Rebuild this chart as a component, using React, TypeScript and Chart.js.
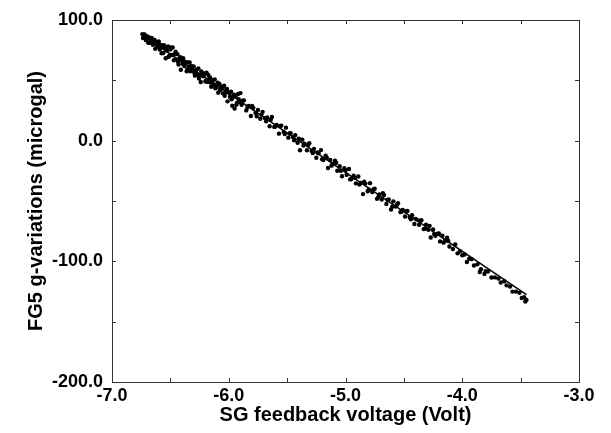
import React, { useEffect, useRef } from "react";
import { Chart, registerables } from "chart.js";

Chart.register(...registerables);

// SG feedback voltage (Volt) of each FG5 drop set
const voltage: number[] = [
  -6.74, -6.73, -6.72, -6.71, -6.70, -6.69, -6.68, -6.67, -6.66, -6.65,
  -6.64, -6.63, -6.62, -6.61, -6.60, -6.59, -6.58, -6.57, -6.56, -6.55,
  -6.54, -6.53, -6.52, -6.51, -6.50, -6.49, -6.48, -6.47, -6.46, -6.45,
  -6.44, -6.43, -6.42, -6.41, -6.40, -6.39, -6.38, -6.37, -6.36, -6.35,
  -6.34, -6.33, -6.32, -6.31, -6.30, -6.29, -6.28, -6.27, -6.26, -6.25,
  -6.24, -6.23, -6.22, -6.21, -6.20, -6.19, -6.18, -6.17, -6.16, -6.15,
  -6.14, -6.13, -6.12, -6.11, -6.10, -6.09, -6.08, -6.07, -6.06, -6.05,
  -6.04, -6.03, -6.02, -6.01, -6.00, -5.99, -5.98, -5.97, -5.96, -5.95,
  -5.94, -5.93, -5.92, -5.91, -5.90,
  -6.735, -6.715, -6.695, -6.675, -6.655, -6.635, -6.615, -6.595, -6.575, -6.555,
  -6.535, -6.515, -6.495, -6.475, -6.455, -6.435, -6.415, -6.395, -6.375, -6.355,
  -6.335, -6.315, -6.295, -6.275, -6.255, -6.235, -6.215, -6.195, -6.175, -6.155,
  -6.135, -6.115, -6.095, -6.075, -6.055, -6.035, -6.015, -5.995, -5.975, -5.955,
  -5.935, -5.915,
  -5.89, -5.87, -5.85, -5.83, -5.81, -5.79, -5.77, -5.75, -5.73, -5.71,
  -5.69, -5.67, -5.65, -5.63, -5.61, -5.59, -5.57, -5.55, -5.53, -5.51,
  -5.49, -5.47, -5.45, -5.43, -5.41, -5.39, -5.37, -5.35, -5.33, -5.31,
  -5.29, -5.27, -5.25, -5.23, -5.21, -5.19, -5.17, -5.15, -5.13, -5.11,
  -5.09, -5.07, -5.05, -5.03, -5.01, -4.99, -4.97, -4.95, -4.93, -4.91,
  -4.89, -4.87, -4.85, -4.83, -4.81, -4.79, -4.77, -4.75, -4.73, -4.71,
  -4.69, -4.67, -4.65, -4.63, -4.61, -4.59, -4.57, -4.55, -4.53, -4.51,
  -4.49, -4.47, -4.45, -4.43, -4.41, -4.39, -4.37, -4.35, -4.33, -4.31,
  -4.29, -4.27, -4.25, -4.23, -4.21, -4.19, -4.17, -4.15, -4.13, -4.11,
  -5.88, -5.84, -5.80, -5.76, -5.72, -5.68, -5.64, -5.60, -5.56, -5.52,
  -5.48, -5.44, -5.40, -5.36, -5.32, -5.28, -5.24, -5.20, -5.16, -5.12,
  -5.08, -5.04, -5.00, -4.96, -4.92, -4.88, -4.84, -4.80, -4.76, -4.72,
  -4.68, -4.64, -4.60, -4.56, -4.52, -4.48, -4.44, -4.40, -4.36, -4.32,
  -4.28, -4.24, -4.20, -4.16, -4.12,
  -4.08, -4.06, -4.04, -4.02, -4.00, -3.98, -3.96, -3.94, -3.90, -3.87,
  -3.84, -3.81, -3.78, -3.75, -3.72, -3.69, -3.67, -3.64, -3.62, -3.59,
  -3.57, -3.54, -3.51, -3.49, -3.47, -3.46, -3.45, -3.92, -3.85, -3.80,
];

// FG5 g-variations (microgal) for the same drop sets
const gravity: number[] = [
  88.3, 85.7, 88.0, 83.4, 85.7, 81.1, 85.4, 82.8, 85.1, 79.5,
  81.8, 76.1, 81.5, 77.8, 82.2, 75.5, 77.9, 79.2, 72.6, 76.9,
  68.3, 74.6, 78.0, 70.3, 75.6, 71.0, 77.3, 66.7, 72.0, 67.4,
  71.7, 63.1, 68.4, 58.8, 66.1, 68.4, 61.8, 65.1, 57.5, 64.8,
  61.2, 57.5, 61.9, 58.2, 61.5, 53.9, 58.2, 54.6, 59.9, 54.3,
  48.6, 56.0, 53.3, 55.7, 49.0, 56.3, 48.7, 51.0, 52.4, 44.7,
  50.1, 46.4, 50.8, 44.1, 46.5, 39.8, 47.1, 43.5, 44.8, 39.2,
  45.5, 39.9, 42.2, 32.6, 39.9, 36.3, 40.6, 28.9, 36.3, 26.6,
  37.0, 31.3, 38.7, 32.0, 39.4,
  85.0, 86.7, 86.4, 81.1, 82.8, 83.5, 78.2, 79.9, 72.5, 79.2,
  75.9, 69.6, 77.3, 71.0, 73.7, 65.4, 69.1, 63.8, 65.5, 59.2,
  64.9, 60.5, 56.2, 58.9, 51.6, 57.3, 54.0, 49.7, 54.4, 48.1,
  49.8, 43.4, 48.1, 41.8, 43.5, 37.2, 42.9, 39.6, 34.3, 38.0,
  29.7, 34.4,
  29.7, 33.4, 25.1, 28.8, 20.5, 27.2, 22.9, 25.5, 18.2, 23.9,
  18.6, 19.3, 12.0, 19.7, 11.4, 13.1, 5.8, 12.5, 7.2, 10.8,
  2.5, 6.2, 2.9, 4.6, -1.7, -8.0, 0.7, -2.6, -7.9, -2.2,
  -8.5, -6.8, -14.1, -10.5, -7.8, -16.1, -12.4, -22.7, -16.0, -19.3,
  -16.6, -24.9, -21.2, -29.5, -22.8, -28.2, -23.5, -31.8, -29.1, -35.4,
  -29.7, -35.0, -44.3, -35.6, -41.9, -35.2, -42.5, -39.9, -48.2, -44.5,
  -48.8, -45.1, -52.4, -48.7, -57.0, -50.3, -54.6, -51.9, -59.2, -57.5,
  -62.9, -58.2, -63.5, -61.8, -69.1, -65.4, -69.7, -66.0, -73.3, -69.6,
  -73.9, -80.3, -73.6, -78.9, -77.2, -83.5, -78.8, -83.1, -80.4, -87.7,
  33.1, 27.5, 28.8, 20.2, 21.6, 16.0, 17.4, 11.7, 12.1, 5.5,
  5.9, 0.3, 1.6, -4.0, -3.6, -10.2, -9.8, -15.4, -14.1, -20.7,
  -18.3, -24.9, -24.5, -32.1, -30.7, -36.4, -34.0, -40.6, -40.2, -46.8,
  -43.5, -49.1, -54.7, -53.3, -58.9, -58.5, -65.2, -64.8, -66.4, -73.0,
  -70.6, -77.3, -76.9, -84.5, -83.1,
  -89.8, -86.1, -93.4, -91.7, -95.0, -94.3, -100.6, -97.9, -103.5, -102.5,
  -106.5, -110.4, -108.4, -113.4, -113.3, -114.3, -117.6, -116.5, -119.9, -120.8,
  -125.1, -125.1, -126.1, -130.4, -129.7, -133.3, -132.0, -98.2, -108.8, -108.1,
];

// Least-squares fit line end points
const fitVoltage: number[] = [-6.75, -3.45];
const fitGravity: number[] = [88.0, -127.5];

// Tick marks (inward, mirrored on all four sides)
const xTickValues: number[] = [-7, -6.5, -6, -5.5, -5, -4.5, -4, -3.5, -3];
const yTickValues: number[] = [-200, -150, -100, -50, 0, 50, 100];

const FONT = "'Liberation Sans', Arial, Helvetica, sans-serif";

const framePlugin = {
  id: "frameTicks",
  afterDatasetsDraw(chart: any) {
    const { ctx, chartArea, scales } = chart;
    const { left, right, top, bottom } = chartArea;
    ctx.save();
    ctx.strokeStyle = "#333";
    ctx.lineWidth = 1;
    ctx.strokeRect(left + 0.5, top + 0.5, right - left, bottom - top);
    const len = 4;
    ctx.beginPath();
    for (const v of xTickValues) {
      const px = Math.round(scales.x.getPixelForValue(v)) + 0.5;
      ctx.moveTo(px, bottom);
      ctx.lineTo(px, bottom - len);
      ctx.moveTo(px, top);
      ctx.lineTo(px, top + len);
    }
    for (const v of yTickValues) {
      const py = Math.round(scales.y.getPixelForValue(v)) + 0.5;
      ctx.moveTo(left, py);
      ctx.lineTo(left + len, py);
      ctx.moveTo(right, py);
      ctx.lineTo(right - len, py);
    }
    ctx.stroke();
    ctx.restore();
  },
};

export default function App() {
  const ref = useRef<HTMLCanvasElement | null>(null);

  useEffect(() => {
    if (!ref.current) return;
    const points = voltage.map((v, i) => ({ x: v, y: gravity[i] }));
    const fit = fitVoltage.map((v, i) => ({ x: v, y: fitGravity[i] }));
    const chart = new Chart(ref.current, {
      type: "scatter",
      data: {
        datasets: [
          {
            label: "FG5 vs SG",
            data: points,
            pointRadius: 2.2,
            pointBorderWidth: 0,
            pointBackgroundColor: "#000",
            pointBorderColor: "#000",
            showLine: false,
          },
          {
            label: "fit",
            data: fit,
            showLine: true,
            borderColor: "#000",
            borderWidth: 1.5,
            pointRadius: 0,
            fill: false,
          },
        ],
      },
      options: {
        responsive: false,
        animation: false,
        layout: { padding: { left: 0, top: 20, right: 32, bottom: 0 } },
        plugins: {
          legend: { display: false },
          tooltip: { enabled: false },
        },
        scales: {
          x: {
            type: "linear",
            min: -7,
            max: -3,
            grid: { display: false, drawTicks: false },
            border: { display: false },
            ticks: {
              stepSize: 1,
              padding: 3,
              color: "#000",
              maxRotation: 0,
              font: { family: FONT, size: 18, weight: "bold" },
              callback: (v: any) => Number(v).toFixed(1),
            },
            title: {
              display: true,
              text: "SG feedback voltage (Volt)",
              color: "#000",
              font: { family: FONT, size: 20, weight: "bold" },
              padding: { top: 0, bottom: 6 },
            },
            afterFit: (s: any) => {
              s.height = 51;
            },
          },
          y: {
            type: "linear",
            min: -200,
            max: 100,
            grid: { display: false, drawTicks: false },
            border: { display: false },
            ticks: {
              stepSize: 100,
              padding: 9,
              color: "#000",
              font: { family: FONT, size: 18, weight: "bold" },
              callback: (v: any) => Number(v).toFixed(1),
            },
            title: {
              display: true,
              text: "FG5 g-variations (microgal)",
              color: "#000",
              font: { family: FONT, size: 20, weight: "bold" },
              padding: { top: 24, bottom: 0 },
            },
            afterFit: (s: any) => {
              s.width = 112;
            },
          },
        },
      },
      plugins: [framePlugin],
    });
    return () => chart.destroy();
  }, []);

  return (
    <div style={{ position: "absolute", left: 0, top: 0, width: 611, height: 433, background: "#fff" }}>
      <canvas ref={ref} width={611} height={433} />
    </div>
  );
}
